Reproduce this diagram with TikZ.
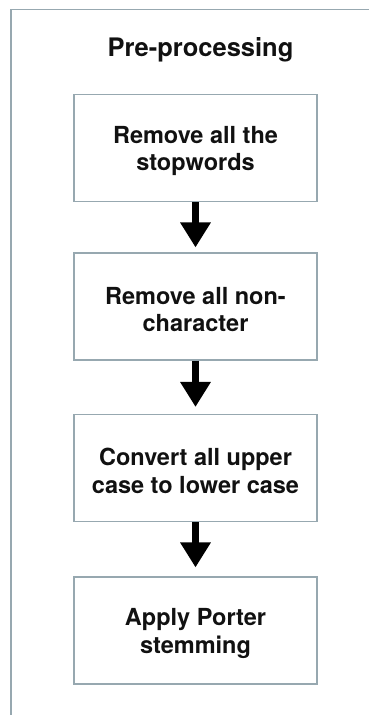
\documentclass[tikz,border=0pt]{standalone}
\usepackage{fontspec}
\setmainfont{TeX Gyre Heros}
\usetikzlibrary{arrows.meta}
\definecolor{edge}{HTML}{97A8B0}
\definecolor{ink}{HTML}{111111}
\newcommand{\toppad}{\rule{0pt}{23.5pt}}
\tikzset{
  stepbox/.style={draw=edge, line width=1.1pt, minimum width=243pt, minimum height=107pt,
    align=center, text=ink, font=\fontsize{23.5pt}{27.5pt}\selectfont\bfseries, inner sep=0pt},
  flowarrow/.style={line width=7pt, draw=black, -{Triangle[width=29pt,length=25pt]}},
  framelines/.style={draw=edge, line width=1.1pt}
}
\begin{document}
\begin{tikzpicture}[x=1pt,y=-1pt]
\useasboundingbox (0,0) rectangle (369,715);
\fill[white] (0,0) rectangle (369,715);
\coordinate (fb) at (11,715);
\coordinate (fc) at (11,9.5);
\coordinate (fr) at (369,9.5);
\draw[framelines] (fb) -- (fc) -- (fr);
\node[text=ink, font=\fontsize{25.5pt}{30pt}\selectfont\bfseries] (title) at (200.5,50) {Pre-processing};
\node[stepbox] (b1) at (195.5,148) {\toppad Remove all the\\stopwords};
\node[stepbox] (b2) at (195.5,306.5) {\toppad Remove all non-\\character};
\node[stepbox] (b3) at (195.5,468) {\toppad Convert all upper\\case to lower case};
\node[stepbox] (b4) at (195.5,630.5) {\toppad Apply Porter\\stemming};
\draw[flowarrow, shorten >=5pt] (b1.south) -- (b2.north);
\draw[flowarrow, shorten >=7pt] (b2.south) -- (b3.north);
\draw[flowarrow, shorten >=9pt] (b3.south) -- (b4.north);
\end{tikzpicture}
\end{document}
